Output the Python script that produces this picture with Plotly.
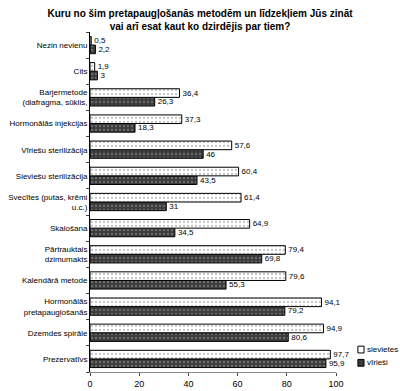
import plotly.graph_objects as go

categories = [
    "Nezin nevienu",
    "Cits",
    "Barjermetode<br>(diafragma, sūklis,",
    "Hormonālās injekcijas",
    "Vīriešu sterilizācija",
    "Sieviešu sterilizācija",
    "Svecītes (putas, krēmi<br>u.c.)",
    "Skalošana",
    "Pārtrauktais<br>dzimumakts",
    "Kalendārā metode",
    "Hormonālās<br>pretapaugļošanās",
    "Dzemdes spirāle",
    "Prezervatīvs",
]
women = [0.5, 1.9, 36.4, 37.3, 57.6, 60.4, 61.4, 64.9, 79.4, 79.6, 94.1, 94.9, 97.7]
men = [2.2, 3, 26.3, 18.3, 46, 43.5, 31, 34.5, 69.8, 55.3, 79.2, 80.6, 95.9]
x_ticks = [0, 20, 40, 60, 80, 100]
series_names = ["sievietes", "vīrieši"]
title_text = "Kuru no šim pretapaugļošanās metodēm un līdzekļiem Jūs zināt<br>vai arī esat kaut ko dzirdējis par tiem?"

W_FILL, W_DOT = "white", "#8a8a8a"
M_FILL, M_DOT = "#3a3a3a", "#9a9a9a"

def fmt(v):
    return ("%g" % v).replace(".", ",")

fig = go.Figure()
fig.add_trace(go.Bar(
    y=categories, x=men, orientation="h", name=series_names[1],
    text=[fmt(v) for v in men], textposition="outside", constraintext="none",
    textfont=dict(size=8, color="black"),
    marker=dict(color=M_FILL, line=dict(color="black", width=1),
                pattern=dict(shape=".", fgcolor=M_DOT, bgcolor=M_FILL, size=4, solidity=0.3)),
    cliponaxis=False, showlegend=False,
))
fig.add_trace(go.Bar(
    y=categories, x=women, orientation="h", name=series_names[0],
    text=[fmt(v) for v in women], textposition="outside", constraintext="none",
    textfont=dict(size=8, color="black"),
    marker=dict(color=W_FILL, line=dict(color="black", width=1),
                pattern=dict(shape=".", fgcolor=W_DOT, bgcolor=W_FILL, size=4, solidity=0.25)),
    cliponaxis=False, showlegend=False,
))

# legend (drawn as layout shapes + annotations, to fit beside the last bars)
legend_y = [0.066, 0.027]
legend_fill = [W_FILL, M_FILL]
for name, yy, fill in zip(series_names, legend_y, legend_fill):
    fig.add_shape(type="rect", xref="paper", yref="paper",
                  x0=1.089, x1=1.114, y0=yy - 0.01, y1=yy + 0.01,
                  fillcolor=fill, line=dict(color="black", width=1))
    fig.add_annotation(xref="paper", yref="paper", x=1.118, y=yy, text=name,
                       xanchor="left", yanchor="middle", showarrow=False,
                       font=dict(size=8, color="black"))

fig.update_layout(
    width=400, height=391,
    margin=dict(l=90, r=64, t=32, b=19, autoexpand=False),
    paper_bgcolor="white", plot_bgcolor="white",
    font=dict(family="Liberation Sans, Arial", size=8, color="black"),
    title=dict(text="<b>" + title_text + "</b>", x=0.5, xanchor="center",
               y=1 - 17 / 391, yanchor="middle",
               font=dict(size=10, color="black")),
    barmode="group", bargap=0.34, bargroupgap=0,
    showlegend=False,
)
fig.update_xaxes(range=[0, 100], tickvals=x_ticks, ticks="outside", ticklen=3,
                 showline=True, linecolor="#888", linewidth=1, showgrid=False, zeroline=False,
                 tickfont=dict(size=9), automargin=False)
fig.update_yaxes(categoryorder="array", categoryarray=categories[::-1],
                 showline=True, linecolor="black", linewidth=1, showgrid=False,
                 ticks="outside", ticklen=3, tickson="boundaries",
                 tickfont=dict(size=8), automargin=False)

fig.write_html("out.html", config={"displayModeBar": False},
               post_script="document.body.style.margin='0';document.body.style.overflow='hidden';")
